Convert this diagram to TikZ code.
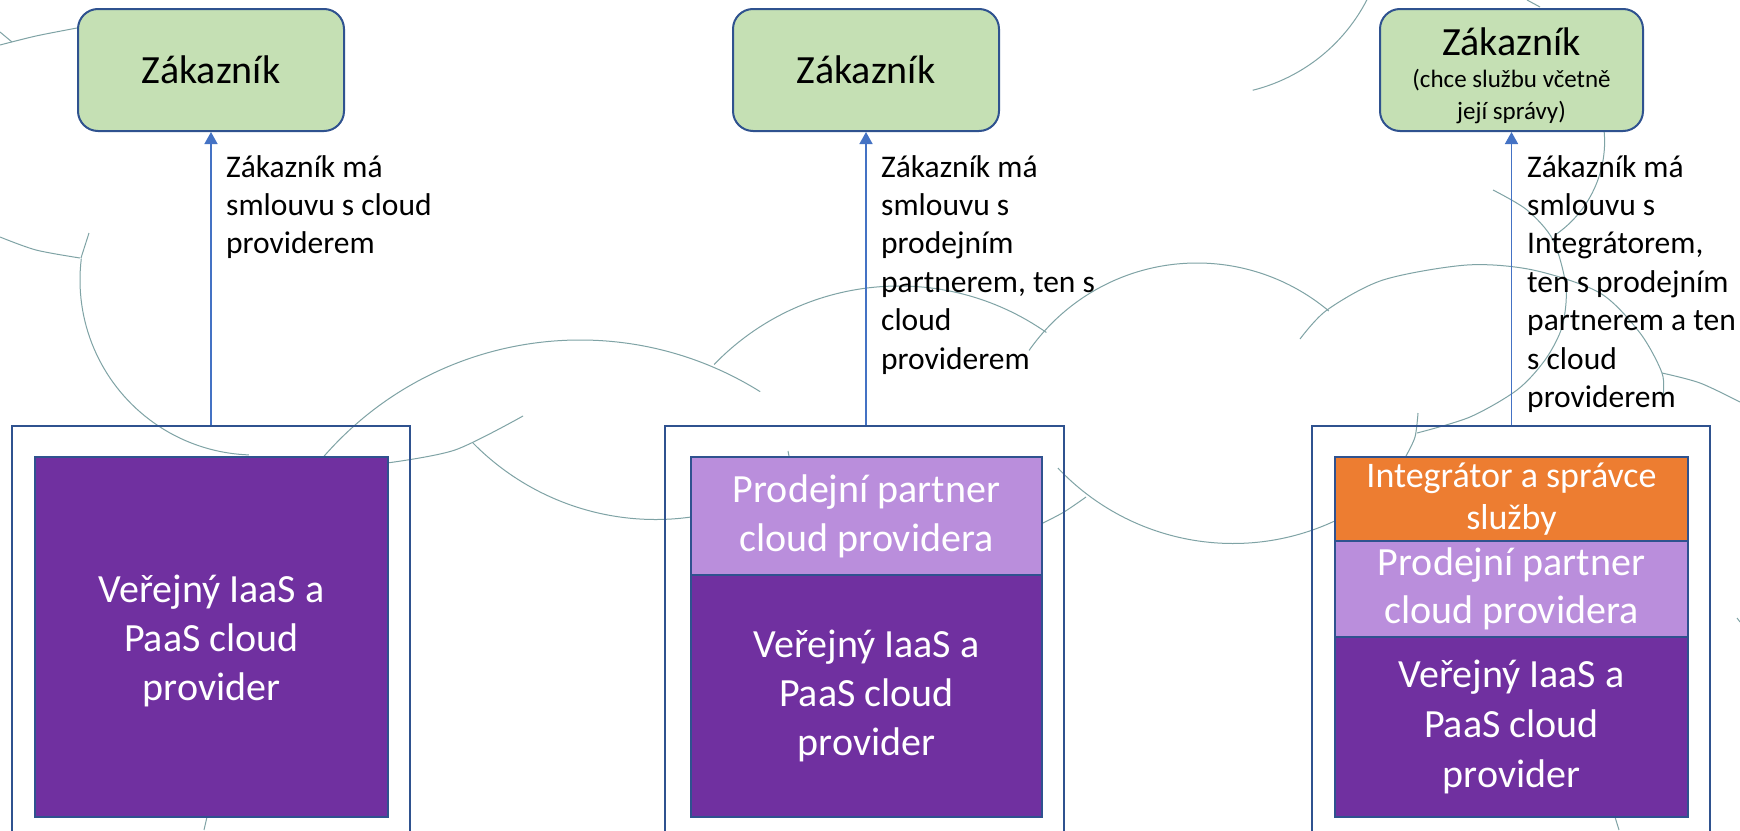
\documentclass[tikz,border=0pt]{standalone}
\usepackage{fontspec}
\setmainfont{Carlito}
\usetikzlibrary{arrows.meta}
\definecolor{custgreen}{HTML}{C5E0B4}
\definecolor{frameblue}{HTML}{2F528F}
\definecolor{arrowblue}{HTML}{4472C4}
\definecolor{provpurple}{HTML}{7030A0}
\definecolor{partnerlav}{HTML}{BA8EDC}
\definecolor{integorange}{HTML}{ED7D31}
\definecolor{cloudgrey}{HTML}{7FA3A5}
\begin{document}
\begin{tikzpicture}[x=1pt,y=-1pt,
  cloudline/.style={draw=cloudgrey, line width=1pt},
  outerbox/.style={draw=frameblue, line width=2.2pt, rectangle, inner sep=0pt, anchor=north west},
  stackbox/.style={draw=frameblue, line width=2pt, rectangle, inner sep=0pt, anchor=north west, text=white, align=center, font=\fontsize{40}{49}\selectfont},
  custbox/.style={draw=frameblue, line width=2pt, fill=custgreen, rounded corners=20pt, rectangle, anchor=north west, minimum width=266pt, minimum height=122pt, inner sep=0pt, align=center, font=\fontsize{40}{48}\selectfont},
  contract/.style={-{Triangle[length=12pt,width=13pt]}, draw=arrowblue, line width=1.5pt},
  contractnote/.style={anchor=north west, inner sep=0pt, align=left, font=\fontsize{31.5}{38.4}\selectfont}
]
\useasboundingbox (0,0) rectangle (1740,830);
\fill[white] (0,0) rectangle (1740,830);

% background cloud outline
\draw[cloudline] plot[smooth] coordinates {(0,45) (36,36) (77,28)};
\draw[cloudline] (0,32) -- (12,42);
\draw[cloudline] plot[smooth] coordinates {(0,237) (36,250) (80,258)};
\draw[cloudline] (89,233) -- (81,258);
\draw[cloudline] ([shift={(187:175)}]255,280) arc[start angle=187, end angle=92, radius=175];
\draw[cloudline] ([shift={(220:340)}]580,680) arc[start angle=220, end angle=302, radius=340];
\draw[cloudline] plot[smooth] coordinates {(387,463) (455,450) (523,416)};
\draw[cloudline] ([shift={(135.5:256)}]655.5,263.5) arc[start angle=135.5, end angle=80, radius=256];
\draw[cloudline] ([shift={(224:257)}]899,543) arc[start angle=224, end angle=305, radius=257];
\draw[cloudline] ([shift={(215:205)}]1197,468) arc[start angle=215, end angle=310, radius=205];
\draw[cloudline] (788,451) -- (789,456);
\draw[cloudline] ([shift={(136.6:241)}]1233,302.5) arc[start angle=136.6, end angle=62, radius=241];
\draw[cloudline] plot[smooth] coordinates {(1041,524) (1064,512) (1086,497)};
\draw[cloudline] ([shift={(76:176.5)}]1210,-81) arc[start angle=76, end angle=20, radius=176.5];
\draw[cloudline] (1527,0) -- (1540,7);
\draw[cloudline] ([shift={(-10:113)}]1491.6,141.5) arc[start angle=-10, end angle=56, radius=113];
\draw[cloudline] plot[smooth] coordinates {(1493,190) (1527,210) (1553,240) (1566,287) (1562,327) (1545,360) (1517,390) (1470,417) (1417,433)};
\draw[cloudline] plot[smooth] coordinates {(1418,413) (1415,437) (1406,456)};
\draw[cloudline] plot[smooth] coordinates {(1300,339) (1327,310) (1383,280) (1467,265) (1533,270) (1600,293) (1640,333) (1662,373) (1663,397)};
\draw[cloudline] plot[smooth] coordinates {(1662,373) (1700,383) (1740,402)};
\draw[cloudline] (1737,618) -- (1740,622);
\draw[cloudline] (207,817) -- (204,830);
\draw[cloudline] (1615,817) -- (1619,830);

% outer frames
\node[outerbox, minimum width=398pt, minimum height=430pt] (outer1) at (11,425) {};
\node[outerbox, minimum width=399pt, minimum height=430pt] (outer2) at (664,425) {};
\node[outerbox, minimum width=398pt, minimum height=430pt] (outer3) at (1311,425) {};

% stacked layers
\node[stackbox, fill=provpurple, minimum width=353pt, minimum height=360pt] (prov1) at (34,456) {\rule{0pt}{36pt}Veřejný IaaS a\\PaaS cloud\\provider};

\node[stackbox, fill=partnerlav, minimum width=351pt, minimum height=118pt] (part2) at (690,456) {Prodejní partner\\cloud providera};
\node[stackbox, fill=provpurple, minimum width=351pt, minimum height=242pt] (prov2) at (690,574) {Veřejný IaaS a\\PaaS cloud\\provider};

\node[stackbox, fill=integorange, minimum width=353pt, minimum height=84pt, font=\fontsize{36}{42}\selectfont] (integ3) at (1334,456) {Integrátor a správce\\služby};
\node[stackbox, fill=partnerlav, minimum width=353pt, minimum height=96pt, font=\fontsize{40}{48}\selectfont] (part3) at (1334,540) {Prodejní partner\\cloud providera};
\node[stackbox, fill=provpurple, minimum width=353pt, minimum height=180pt, font=\fontsize{40}{50}\selectfont] (prov3) at (1334,636) {Veřejný IaaS a\\PaaS cloud\\provider};

% customers
\node[custbox] (cust1) at (77,8) {Zákazník};
\node[custbox] (cust2) at (732,8) {Zákazník};
\node[custbox, minimum width=263pt, font=\fontsize{25}{32}\selectfont] (cust3) at (1379,8) {{\fontsize{40}{40}\selectfont\rule{0pt}{40pt}Zákazník}\\(chce službu včetně\\její správy)};

% contract arrows
\draw[contract] (cust1.south |- outer1.north) -- (cust1.south);
\draw[contract] (cust2.south |- outer2.north) -- (cust2.south);
\draw[contract] (cust3.south |- outer3.north) -- (cust3.south);

% notes
\node[contractnote] (note1) at (226,155) {Zákazník má\\smlouvu s cloud\\providerem};
\node[contractnote] (note2) at (881,155) {Zákazník má\\smlouvu s\\prodejním\\partnerem, ten s\\cloud\\providerem};
\node[contractnote] (note3) at (1527,155) {Zákazník má\\smlouvu s\\Integrátorem,\\ten s prodejním\\partnerem a ten\\s cloud\\providerem};
\end{tikzpicture}
\end{document}
